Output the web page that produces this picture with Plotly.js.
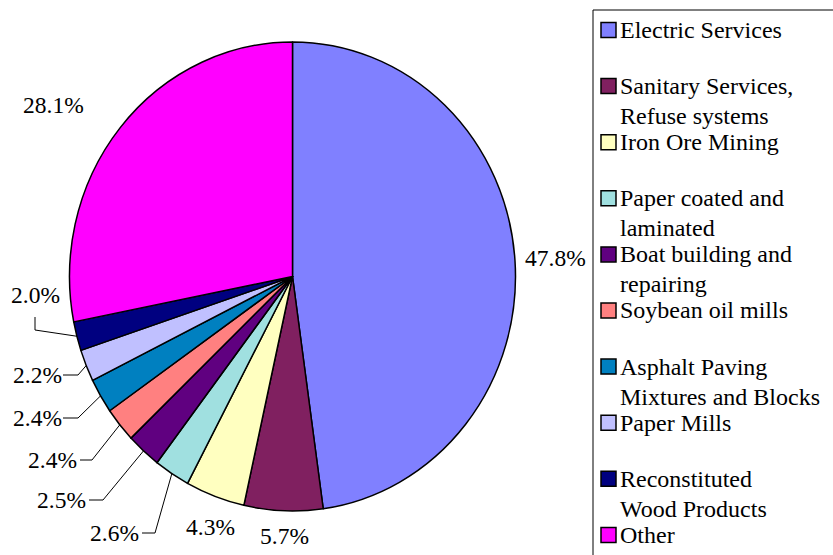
<!DOCTYPE html>
<html>
<head>
<meta charset="utf-8">
<script src="https://cdn.plot.ly/plotly-3.0.1.min.js"></script>
<style>html,body{margin:0;padding:0;background:#fff;}</style>
</head>
<body>
<div id="chart" style="width:833px;height:555px;"></div>
<script>
// Industry categories (legend text lines split with <br>)
const categories = [
  'Electric Services',
  'Sanitary Services,<br>Refuse systems',
  'Iron Ore Mining',
  'Paper coated and<br>laminated',
  'Boat building and<br>repairing',
  'Soybean oil mills',
  'Asphalt Paving<br>Mixtures and Blocks',
  'Paper Mills',
  'Reconstituted<br>Wood Products',
  'Other'
];
// Share of total, percent
const shares = [47.8, 5.7, 4.3, 2.6, 2.5, 2.4, 2.4, 2.2, 2.0, 28.1];
const sliceColors = [
  '#8080FF', '#802060', '#FFFFC0', '#A0E0E0', '#600080',
  '#FF8080', '#0080C0', '#C0C0FF', '#000080', '#FF00FF'
];

// ---- layout geometry (pixels) ----
const W = 833, H = 555;
const CX = 292.5, CY = 276.5, R = 228;   // pie centre and drawn radius
const RX = 223, RY = 234.5;               // pie is shown slightly taller than wide
const FONT = 'Liberation Serif, Times New Roman, serif';
const px = x => x / W;
const py = y => 1 - y / H;

// where each percentage label sits
const labelAt = [[555, 258], [284, 536], [210, 527], [114, 533], [62, 500],
                 [52, 460], [37, 418], [37, 375], [35, 295], [53, 105]];
// leader line bends for the small slices (null = no leader)
const elbows = [null, null, null,
  [[142, 533], [155, 533]],
  [[89, 500], [103, 500]],
  [[80, 460], [92, 460]],
  [[63, 418], [78, 418]],
  [[63, 375], [78, 375]],
  [[35, 317], [35, 330]],
  null];

const total = shares.reduce((a, b) => a + b, 0);
let cum = 0;
const rimPoints = shares.map(v => {
  const th = (cum + v / 2) / total * 2 * Math.PI;
  cum += v;
  return [CX + RX * Math.sin(th), CY - RY * Math.cos(th)];
});

const annotations = [];
const shapes = [];

// percentage labels and leader lines
shares.forEach((v, i) => {
  annotations.push({
    xref: 'paper', yref: 'paper', x: px(labelAt[i][0]), y: py(labelAt[i][1]),
    xanchor: 'center', yanchor: 'middle', showarrow: false,
    text: v.toFixed(1) + '%', font: {family: FONT, size: 23.5, color: '#000'}
  });
  if (elbows[i]) {
    const pts = elbows[i].concat([rimPoints[i]]);
    const d = pts.map((p, k) => (k ? 'L' : 'M') + px(p[0]) + ',' + py(p[1])).join(' ');
    shapes.push({type: 'path', xref: 'paper', yref: 'paper', path: d,
                 line: {color: '#000', width: 1}});
  }
});

// legend frame
shapes.push({type: 'rect', xref: 'paper', yref: 'paper',
  x0: px(593), x1: px(900), y0: py(10), y1: py(620),
  line: {color: '#000', width: 1}, fillcolor: 'rgba(0,0,0,0)'});

// legend entries: swatch + text lines
const ENTRY0 = 30, STEP = 56.1, LINE = 30;
categories.forEach((name, i) => {
  const cy = ENTRY0 + STEP * i;
  shapes.push({type: 'rect', xref: 'paper', yref: 'paper',
    x0: px(601), x1: px(616), y0: py(cy - 7.5), y1: py(cy + 7.5),
    fillcolor: sliceColors[i], line: {color: '#000', width: 1.5}});
  name.split('<br>').forEach((ln, k) => {
    annotations.push({
      xref: 'paper', yref: 'paper', x: px(618), y: py(cy + k * LINE),
      xanchor: 'left', yanchor: 'middle', showarrow: false,
      text: ln, font: {family: FONT, size: 24, color: '#000'}
    });
  });
});

const data = [{
  type: 'pie',
  labels: categories,
  values: shares,
  sort: false,
  direction: 'clockwise',
  rotation: 0,
  textinfo: 'none',
  hoverinfo: 'skip',
  showlegend: false,
  marker: {colors: sliceColors, line: {color: '#000', width: 1.5}},
  domain: {x: [px(CX - R), px(CX + R)], y: [py(CY + R), py(CY - R)]}
}];

const layout = {
  width: W, height: H,
  margin: {l: 0, r: 0, t: 0, b: 0},
  paper_bgcolor: '#fff',
  showlegend: false,
  font: {family: FONT},
  annotations: annotations,
  shapes: shapes
};

Plotly.newPlot('chart', data, layout, {staticPlot: true}).then(gd => {
  // stretch the pie into its slightly oval shape about its centre
  const layer = gd.querySelector('.pielayer');
  if (layer) {
    layer.setAttribute('transform',
      `translate(${CX},${CY}) scale(${RX / R},${RY / R}) translate(${-CX},${-CY})`);
    layer.querySelectorAll('path').forEach(p => p.setAttribute('vector-effect', 'non-scaling-stroke'));
  }
});
</script>
</body>
</html>
